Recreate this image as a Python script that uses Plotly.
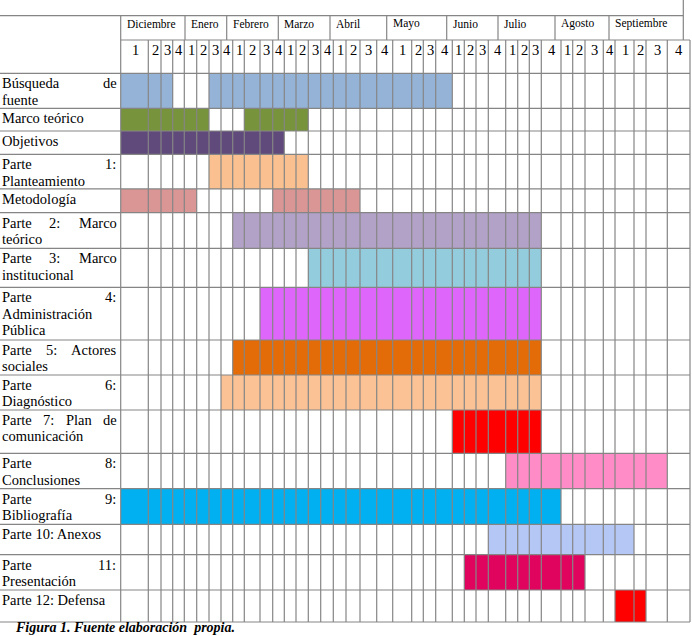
import plotly.graph_objects as go

# ---------------- data ----------------
months = ["Diciembre", "Enero", "Febrero", "Marzo", "Abril", "Mayo",
          "Junio", "Julio", "Agosto", "Septiembre"]
week_labels = ["1", "2", "3", "4"] * 10

task_labels = [
    ["Búsqueda de", "fuente"],
    ["Marco teórico"],
    ["Objetivos"],
    ["Parte 1:", "Planteamiento"],
    ["Metodología"],
    ["Parte 2: Marco", "teórico"],
    ["Parte 3: Marco", "institucional"],
    ["Parte 4:", "Administración", "Pública"],
    ["Parte 5: Actores", "sociales"],
    ["Parte 6:", "Diagnóstico"],
    ["Parte 7: Plan de", "comunicación"],
    ["Parte 8:", "Conclusiones"],
    ["Parte 9:", "Bibliografía"],
    ["Parte 10: Anexos"],
    ["Parte 11:", "Presentación"],
    ["Parte 12: Defensa"],
]
task_colors = ["#95B3D7", "#77933C", "#604A7B", "#FAC090", "#D99694", "#B3A2C7",
               "#93CDDD", "#DF66FA", "#E36C09", "#FAC295", "#FF0000", "#FF8CC6",
               "#00B0F0", "#B5C7F5", "#E0045F", "#FF0000"]

# bar segments: task index, first week column, last week column (1..40)
bar_task = [0, 0, 1, 1, 2, 3, 4, 4, 5, 6, 7, 8, 9, 10, 11, 12, 13, 14, 15]
bar_start = [1, 7, 1, 10, 1, 7, 1, 12, 9, 15, 11, 9, 8, 25, 29, 1, 28, 26, 37]
bar_end = [3, 24, 6, 14, 12, 14, 5, 18, 31, 31, 31, 31, 31, 31, 39, 32, 37, 34, 38]

caption = "Figura 1. Fuente elaboración  propia."

# ---------------- layout geometry ----------------
W, H = 692, 636
col_edges = [120.7, 148.3, 161, 172.7, 184.3, 196.7, 209, 221, 232.7, 244.3, 260,
             272.7, 284.3, 296, 308.3, 320.7, 333.3, 346, 360, 376.7, 392.7, 411.7,
             423.3, 435.7, 452.3, 464.3, 476, 488.3, 505.7, 517.7, 529.3, 541.3, 561,
             572.7, 585, 603.3, 615, 634, 646, 667.3, 690]
month_edges = [120.7, 185, 226.7, 278.3, 330, 386.7, 446.7, 498, 555, 609, 683.3]
y_top, y_month, y_week = 15.7, 40.0, 73.3
row_edges = [73.3, 108.3, 131, 154.3, 188.8, 212.7, 248.3, 287.3, 340, 375, 410,
             453.3, 488.7, 524.3, 554.7, 590, 622]
right_edge = 690
GRID = "#858585"
LW = 1.2
FONT = "Liberation Serif"
FS = 14.5

# ---------------- bars ----------------
bases, lengths, ycs, heights, cols = [], [], [], [], []
for t, s, e in zip(bar_task, bar_start, bar_end):
    x0, x1 = col_edges[s - 1], col_edges[e]
    bases.append(x0)
    lengths.append(x1 - x0)
    ycs.append((row_edges[t] + row_edges[t + 1]) / 2)
    heights.append(row_edges[t + 1] - row_edges[t])
    cols.append(task_colors[t])

fig = go.Figure()
fig.add_trace(go.Bar(orientation="h", y=ycs, x=lengths, base=bases, width=heights,
                     marker=dict(color=cols, line=dict(width=0)),
                     hoverinfo="skip", showlegend=False))

# ---------------- grid ----------------
shapes = []
def hline(y, x0, x1):
    shapes.append(dict(type="line", x0=x0, x1=x1, y0=y, y1=y,
                       line=dict(color=GRID, width=LW), layer="above"))
def vline(x, y0, y1):
    shapes.append(dict(type="line", x0=x, x1=x, y0=y0, y1=y1,
                       line=dict(color=GRID, width=LW), layer="above"))

hline(y_top, 0, month_edges[-1])
hline(y_month, col_edges[0], right_edge)
for y in row_edges:
    hline(y, 0, right_edge)
vline(col_edges[0], y_top, row_edges[-1])
for x in month_edges[1:-1]:
    vline(x, y_top, y_month)
vline(month_edges[-1], 0, y_month)
for x in col_edges[1:]:
    vline(x, y_month, row_edges[-1])

# ---------------- text ----------------
TW = {' ': 250, 'a': 444, 'b': 500, 'c': 444, 'd': 500, 'e': 444, 'f': 333, 'g': 500,
      'h': 500, 'i': 278, 'j': 278, 'k': 500, 'l': 278, 'm': 778, 'n': 500, 'o': 500,
      'p': 500, 'q': 500, 'r': 333, 's': 389, 't': 278, 'u': 500, 'v': 500, 'w': 722,
      'x': 500, 'y': 500, 'z': 444, 'á': 444, 'é': 444, 'í': 278, 'ó': 500, 'ú': 500,
      'A': 722, 'B': 667, 'C': 667, 'D': 722, 'M': 889, 'O': 722, 'P': 556, ':': 278}
def tw(word):
    return sum(TW.get(ch, 500) for ch in word) * FS / 1000.0

annotations = []
def add_text(x, y, text, size=FS, xanchor="left"):
    annotations.append(dict(x=x, y=y, text=text, showarrow=False, xanchor=xanchor,
                            yanchor="middle", borderpad=0,
                            font=dict(family=FONT, size=size, color="black")))

LX0, LX1 = 0.5, 115.5
LINE_H = 16.5
for t, lines in enumerate(task_labels):
    top = row_edges[t]
    for k, line in enumerate(lines):
        yc = top + 14.5 - 4.6 + k * LINE_H
        words = line.split()
        last = (k == len(lines) - 1)
        if last or len(words) == 1:
            add_text(LX0, yc, line)
        else:
            total = sum(tw(w) for w in words)
            gap = (LX1 - LX0 - total) / (len(words) - 1)
            x = LX0
            for w in words:
                add_text(x, yc, w)
                x += tw(w) + gap

for i, m in enumerate(months):
    add_text(month_edges[i] + 5, 23.5, m, size=11.5)

for i, wl in enumerate(week_labels):
    add_text((col_edges[i] + col_edges[i + 1]) / 2 + 0.5, 49.5, wl, xanchor="center")

annotations.append(dict(x=14, y=627.5, text="<b><i>" + caption + "</i></b>",
                        showarrow=False, xanchor="left", yanchor="middle", borderpad=0,
                        font=dict(family=FONT, size=14, color="black")))

fig.update_layout(
    width=W, height=H, margin=dict(l=0, r=0, t=0, b=0),
    paper_bgcolor="white", plot_bgcolor="white",
    xaxis=dict(range=[0, W], visible=False, fixedrange=True),
    yaxis=dict(range=[H, 0], visible=False, fixedrange=True),
    shapes=shapes, annotations=annotations, bargap=0,
)

fig.write_html("out.html", config={"displayModeBar": False},
               post_script="document.body.style.margin='0';")
